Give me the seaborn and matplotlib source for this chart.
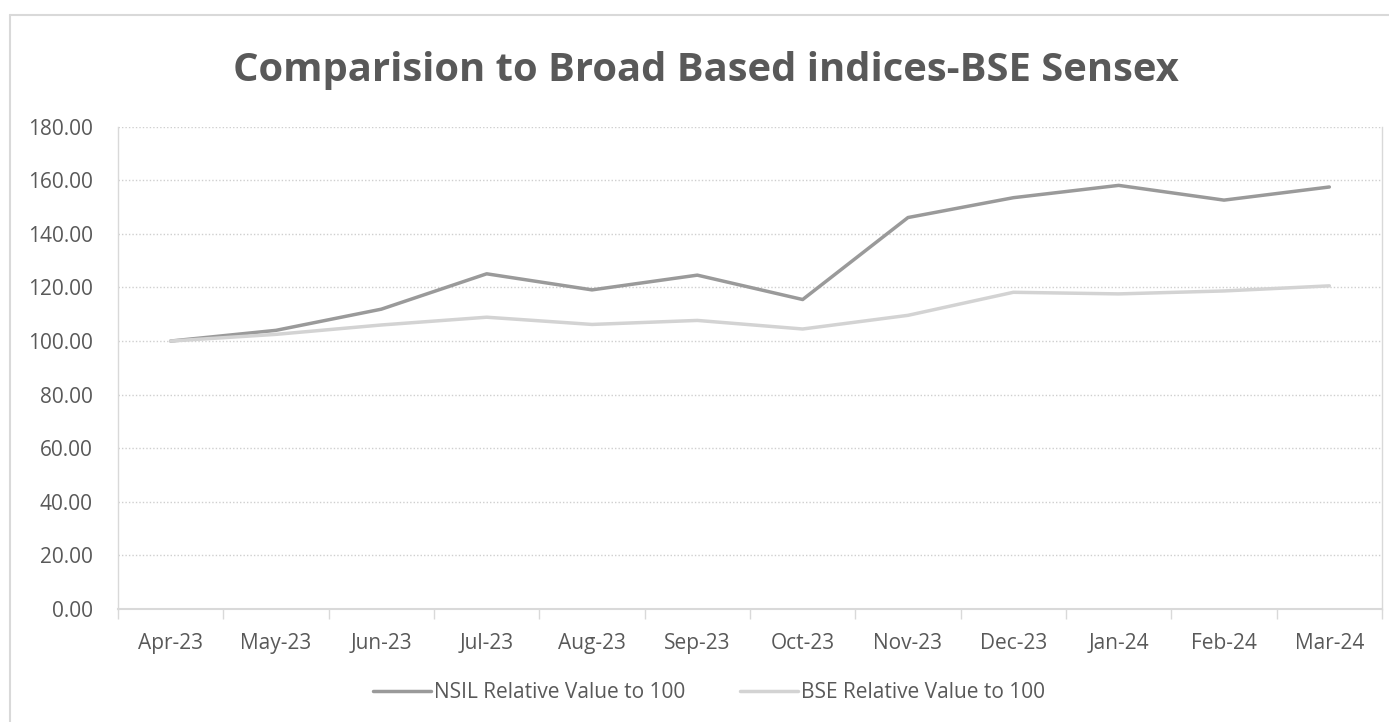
import pandas as pd
import numpy as np
import matplotlib
matplotlib.use("Agg")
import matplotlib.pyplot as plt
import seaborn as sns
from matplotlib.lines import Line2D
from matplotlib.ticker import FixedLocator

months = ["Apr-23", "May-23", "Jun-23", "Jul-23", "Aug-23", "Sep-23",
          "Oct-23", "Nov-23", "Dec-23", "Jan-24", "Feb-24", "Mar-24"]
nsil = [100.0, 104.0, 111.9, 125.1, 119.1, 124.6, 115.5, 146.1, 153.5, 158.1, 152.6, 157.5]
bse = [100.0, 102.5, 106.0, 108.9, 106.2, 107.7, 104.5, 109.6, 118.2, 117.6, 118.7, 120.6]
series_names = ["NSIL Relative Value to 100", "BSE Relative Value to 100"]
yticks = [0, 20, 40, 60, 80, 100, 120, 140, 160, 180]

df = pd.DataFrame({"month": months, series_names[0]: nsil, series_names[1]: bse})
long_df = df.melt(id_vars="month", var_name="series", value_name="value")
long_df["pos"] = long_df["month"].map({m: i for i, m in enumerate(months)})

sns.set_theme(style="white")
plt.rcParams["font.family"] = ["Open Sans", "DejaVu Sans"]
text_col = "#595959"

fig = plt.figure(figsize=(13.89, 7.22), dpi=100)
ax = fig.add_axes([118 / 1389, 1 - 609 / 722, (1382 - 118) / 1389, (609 - 126.7) / 722])

sns.lineplot(data=long_df, x="pos", y="value", hue="series", hue_order=series_names,
             palette=["#9A9A9A", "#D3D3D3"], linewidth=2.5, ax=ax, legend=False)

ax.set_xlim(-0.5, len(months) - 0.5)
ax.set_ylim(0, 180)
ax.set_yticks(yticks)
ax.set_yticklabels([f"{v:.2f}" for v in yticks])
ax.set_xticks(range(len(months)))
ax.set_xticklabels(months)
ax.xaxis.set_minor_locator(FixedLocator(np.arange(-0.5, len(months), 1.0)))
ax.tick_params(axis="x", which="major", length=0, pad=17, labelsize=15, labelcolor=text_col)
ax.tick_params(axis="x", which="minor", length=7.5, width=1, color="#D9D9D9", bottom=True)
ax.tick_params(axis="y", length=0, pad=18, labelsize=15, labelcolor=text_col)
ax.set_xlabel("")
ax.set_ylabel("")

for v in yticks[1:]:
    ax.axhline(v, color="#CFCFCF", lw=1, ls=(0, (1, 1.5)), zorder=0)

ax.spines["top"].set_visible(False)
for s in ["left", "right", "bottom"]:
    ax.spines[s].set_color("#D9D9D9")
    ax.spines[s].set_linewidth(1)
ax.spines["bottom"].set_linewidth(1.5)

fig.text(706 / 1389, 1 - 70 / 722, "Comparision to Broad Based indices-BSE Sensex",
         ha="center", va="center", fontsize=28.8, fontweight="bold", color=text_col)

handles = [Line2D([0], [0], color="#9A9A9A", lw=2.5), Line2D([0], [0], color="#D3D3D3", lw=2.5)]
fig.legend(handles, series_names, loc="center", bbox_to_anchor=(709 / 1389, 1 - 693 / 722),
           ncol=2, frameon=False, fontsize=15, labelcolor=text_col,
           handlelength=2.8, handletextpad=0.15, columnspacing=2.6)

# chart area border (left and top edges visible)
fig.add_artist(Line2D([10 / 1389, 10 / 1389], [0, 1 - 14.5 / 722], color="#D9D9D9", lw=1.5))
fig.add_artist(Line2D([10 / 1389, 1], [1 - 14.5 / 722, 1 - 14.5 / 722], color="#D9D9D9", lw=1.5))

fig.savefig("out.png", dpi=100, facecolor="white")
